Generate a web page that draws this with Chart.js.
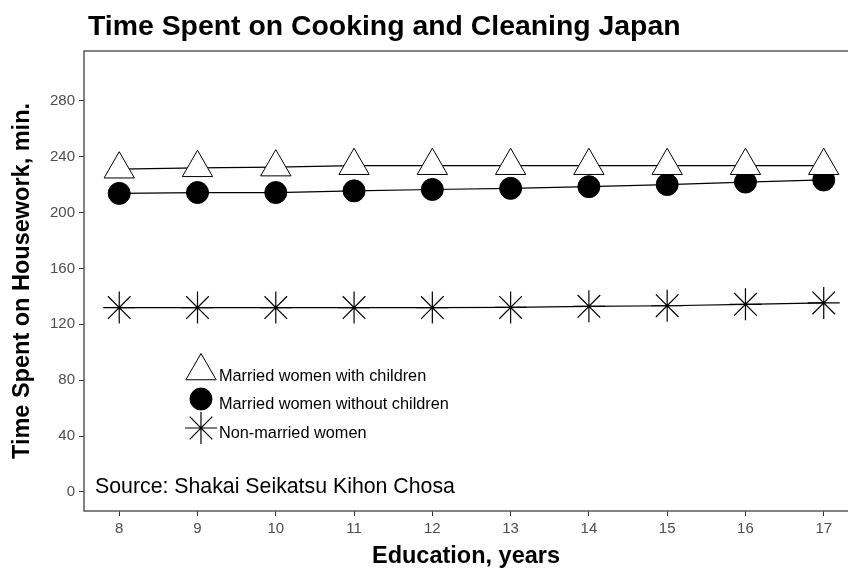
<!DOCTYPE html>
<html>
<head>
<meta charset="utf-8">
<script src="https://cdn.jsdelivr.net/npm/chart.js"></script>
<style>
  html, body { margin: 0; padding: 0; background: #fff; overflow: hidden; }
  #chart { display: block; }
</style>
</head>
<body>
<canvas id="chart" width="848" height="571"></canvas>
<script>
const years = [8, 9, 10, 11, 12, 13, 14, 15, 16, 17];
const withChildren = [231, 232, 232.5, 233.5, 233.5, 233.5, 233.5, 233.5, 233.5, 233.5];
const withoutChildren = [213.7, 214.3, 214.3, 215.5, 216.5, 217.3, 218.5, 220, 221.8, 223.3];
const nonMarried = [132, 132, 132, 132, 132, 132.1, 132.9, 133.3, 134.3, 135.3];
const yTicks = [0, 40, 80, 120, 160, 200, 240, 280];
const seriesNames = ["Married women with children", "Married women without children", "Non-married women"];

const toPoints = (vals) => vals.map((v, i) => ({ x: years[i], y: v }));

const tickFont = { family: "Liberation Sans, Arial", size: 15 };
const titleFont = { family: "Liberation Sans, Arial", size: 23.5, weight: "bold" };

// title, source note, panel border (right edge is cropped off) and legend
const extras = {
  id: "extras",
  afterDraw(chart) {
    const ctx = chart.ctx;
    const a = chart.chartArea;
    ctx.save();
    ctx.strokeStyle = "#5a5a5a";
    ctx.lineWidth = 1.5;
    ctx.beginPath();
    ctx.moveTo(chart.width + 2, a.top);
    ctx.lineTo(a.left, a.top);
    ctx.lineTo(a.left, a.bottom);
    ctx.lineTo(chart.width + 2, a.bottom);
    ctx.stroke();

    ctx.fillStyle = "#000";
    ctx.textBaseline = "alphabetic";
    ctx.font = "bold 28.4px 'Liberation Sans', Arial";
    ctx.fillText("Time Spent on Cooking and Cleaning Japan", 88, 35);

    ctx.font = "21.3px 'Liberation Sans', Arial";
    ctx.fillText("Source: Shakai Seikatsu Kihon Chosa", 95, 493);

    // legend
    const rows = [371, 399, 428];
    ctx.font = "16.3px 'Liberation Sans', Arial";
    chart.data.datasets.forEach((ds, i) => {
      ctx.fillStyle = ds.pointBackgroundColor;
      ctx.strokeStyle = ds.pointBorderColor;
      ctx.lineWidth = ds.pointBorderWidth;
      ctx.beginPath();
      drawMarker(ctx, ds.pointStyle, ds.pointRadius, 201, rows[i]);
      if (ds.pointStyle !== "star") ctx.fill();
      ctx.stroke();
      ctx.fillStyle = "#000";
      ctx.fillText(seriesNames[i], 219, rows[i] + 10);
    });
    ctx.restore();
  }
};

function drawMarker(ctx, style, r, x, y) {
  if (style === "circle") {
    ctx.arc(x, y, r, 0, Math.PI * 2);
  } else if (style === "triangle") {
    let rad = 0;
    ctx.moveTo(x + Math.sin(rad) * r, y - Math.cos(rad) * r);
    for (let k = 0; k < 2; k++) {
      rad += Math.PI * 2 / 3;
      ctx.lineTo(x + Math.sin(rad) * r, y - Math.cos(rad) * r);
    }
    ctx.closePath();
  } else {
    for (let k = 0; k < 4; k++) {
      const rad = k * Math.PI / 4;
      ctx.moveTo(x - Math.sin(rad) * r, y - Math.cos(rad) * r);
      ctx.lineTo(x + Math.sin(rad) * r, y + Math.cos(rad) * r);
    }
  }
}

new Chart(document.getElementById("chart"), {
  type: "line",
  data: {
    datasets: [
      {
        label: seriesNames[0],
        data: toPoints(withChildren),
        borderColor: "#000",
        borderWidth: 1.2,
        pointStyle: "triangle",
        pointRadius: 17.5,
        pointBackgroundColor: "#fff",
        pointBorderColor: "#000",
        pointBorderWidth: 1
      },
      {
        label: seriesNames[1],
        data: toPoints(withoutChildren),
        borderColor: "#000",
        borderWidth: 1.2,
        pointStyle: "circle",
        pointRadius: 11,
        pointBackgroundColor: "#000",
        pointBorderColor: "#000",
        pointBorderWidth: 1
      },
      {
        label: seriesNames[2],
        data: toPoints(nonMarried),
        borderColor: "#000",
        borderWidth: 1.2,
        pointStyle: "star",
        pointRadius: 16,
        pointBackgroundColor: "#000",
        pointBorderColor: "#000",
        pointBorderWidth: 1.2
      }
    ]
  },
  options: {
    responsive: false,
    maintainAspectRatio: false,
    animation: false,
    layout: { autoPadding: false, padding: { top: 51, left: 0, right: 0, bottom: 0 } },
    plugins: { legend: { display: false }, tooltip: { enabled: false } },
    scales: {
      x: {
        type: "linear",
        min: 7.55,
        max: 17.31,
        afterBuildTicks: (s) => { s.ticks = years.map(v => ({ value: v })); },
        afterFit: (s) => { s.height = 60; s.paddingLeft = 0; s.paddingRight = 0; },
        grid: { drawOnChartArea: false, drawTicks: true, tickLength: 5, tickColor: "#333" },
        border: { display: false },
        ticks: { font: tickFont, color: "#4d4d4d", padding: 4, maxRotation: 0 },
        title: { display: true, text: "Education, years", font: titleFont, color: "#000", padding: { top: 0, bottom: 0 } }
      },
      y: {
        min: -13.6,
        max: 315.6,
        afterBuildTicks: (s) => { s.ticks = yTicks.map(v => ({ value: v })); },
        afterFit: (s) => { s.width = 84; s.paddingTop = 0; s.paddingBottom = 0; },
        grid: { drawOnChartArea: false, drawTicks: true, tickLength: 5, tickColor: "#333" },
        border: { display: false },
        ticks: { font: tickFont, color: "#4d4d4d", padding: 4 },
        title: { display: true, text: "Time Spent on Housework, min.", font: titleFont, color: "#000", padding: { top: 8, bottom: 0 } }
      }
    }
  },
  plugins: [extras]
});
</script>
</body>
</html>
